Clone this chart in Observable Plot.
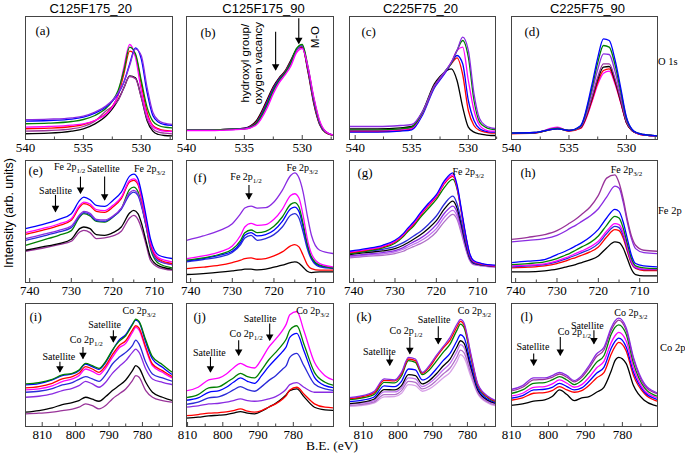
<!DOCTYPE html>
<html><head><meta charset="utf-8">
<script src="https://cdn.jsdelivr.net/npm/d3@7"></script>
<script src="https://cdn.jsdelivr.net/npm/@observablehq/plot@0.6"></script>
<style>
html,body{margin:0;padding:0;background:#fff;}
#chart{position:relative;width:685px;height:453px;overflow:hidden;background:#fff;}
#chart svg{position:absolute;}
</style></head><body><div id="chart"></div>
<script>
// ---------- binding-energy grids (eV) ----------
const oX  = [540.6, 538, 536, 535, 534, 533, 532.5, 532, 531.5, 531, 530.5, 530, 529.5, 529, 528.5, 528, 527.3];
const feX = [741, 737, 733, 730, 728, 727, 725.5, 724, 722, 720, 718, 716, 715, 714, 713, 712, 711, 709, 705.7];
const coX = [815, 811, 807, 804, 801, 799, 797, 795, 793, 791, 789, 787, 785, 783, 782, 781, 779, 777, 774, 771, 768];

// ---------- tick labels ----------
const oTicks = [540, 535, 530], oMinor = [537.5, 532.5, 527.5];
const feTicks = [740, 730, 720, 710], feMinor = [735, 725, 715];
const coTicks = [810, 800, 790, 780], coMinor = [805, 795, 785, 775];

const colTitles = ["C125F175_20", "C125F175_90", "C225F75_20", "C225F75_90"];
const rowTitles = ["O 1s", "Fe 2p", "Co 2p"];

// ---------- (a) C125F175_20, O 1s ----------
const a_violet  = [54,56,60,65,77,97,112,134,167,217,267,247,152,77,52,44,40];
const a_blue    = [50,52,56,62,74,94,110,132,167,222,270,237,137,67,47,40,37];
const a_green   = [42,44,49,55,67,90,110,142,202,272,252,172,92,50,37,32,30];
const a_magenta = [32,34,38,42,52,72,92,130,212,280,242,142,67,34,24,20,19];
const a_red     = [27,29,34,40,52,74,94,127,192,260,247,162,77,37,27,22,20];
const a_purple  = [20,22,27,34,50,82,94,112,150,184,177,122,57,27,17,14,12];
const a_black   = [12,14,20,27,42,67,87,114,150,186,180,122,52,20,10,7,6];
// ---------- (b) C125F175_90, O 1s ----------
const b_black   = [24,24,26,29,50,117,154,180,200,232,264,272,197,102,40,16,7];
const b_red     = [24,24,26,28,46,112,150,177,198,228,262,274,200,106,42,17,7];
const b_blue    = [24,24,26,28,44,108,147,175,196,226,264,276,205,110,44,18,8];
const b_green   = [24,24,26,27,42,102,142,172,194,224,268,280,212,118,48,19,8];
const b_magenta = [22,22,24,26,38,92,132,165,188,214,255,268,212,122,52,20,8];
const b_violet  = [23,23,25,27,40,98,138,170,192,220,262,276,208,115,46,19,8];
// ---------- (c) C225F75_20, O 1s ----------
const c_black   = [27,27,30,34,82,162,184,200,207,172,92,32,17,12,9,7,7];
const c_red     = [19,19,22,27,77,157,180,200,222,240,190,82,37,22,17,14,14];
const c_blue    = [17,17,20,24,72,150,174,197,224,247,222,112,52,27,20,17,17];
const c_magenta = [22,22,25,29,77,154,178,200,227,262,272,172,82,37,24,20,20];
const c_green   = [24,24,27,32,79,156,180,202,224,262,292,242,112,47,32,26,24];
const c_violet  = [34,34,37,40,82,156,180,202,227,262,302,262,132,57,37,30,27];
// ---------- (d) C225F75_90, O 1s ----------
const d_blue    = [14,16,27,22,36,160,240,297,292,235,150,62,25,14,10,8,6];
const d_green   = [14,16,28,22,35,150,225,277,272,220,140,58,24,14,10,8,6];
const d_violet  = [14,16,29,22,34,138,205,252,250,200,128,54,23,13,9,7,6];
const d_purple  = [13,15,28,21,32,122,182,222,222,178,115,48,22,13,9,7,6];
const d_black   = [14,15,27,22,31,118,175,212,214,172,110,46,21,13,9,7,6];
const d_red     = [12,14,29,20,29,112,167,202,207,167,107,45,21,12,8,7,6];
const d_magenta = [13,15,32,21,28,108,160,194,200,162,105,45,21,12,8,7,6];
// ---------- (e) C125F175_20, Fe 2p ----------
const e_blue    = [162,174,190,207,247,257,249,232,229,247,272,320,326,312,262,197,132,82,72];
const e_magenta = [150,162,176,192,232,242,236,219,216,232,257,307,312,300,250,187,122,74,62];
const e_red     = [145,157,171,187,227,237,231,214,211,227,252,302,307,295,245,182,117,70,57];
const e_violet  = [132,144,157,170,204,214,208,190,188,200,224,270,277,267,227,172,112,67,54];
const e_blue2   = [127,139,152,165,200,210,204,186,184,197,220,264,272,262,222,167,107,64,54];
const e_green   = [112,127,142,156,197,207,200,184,182,197,222,280,287,274,227,167,102,57,44];
const e_black   = [97,107,117,130,162,167,162,144,142,150,167,209,217,207,172,122,77,50,40];
const e_purple  = [94,103,114,124,152,157,150,132,134,140,154,194,202,190,157,112,67,45,37];
// ---------- (f) C125F175_90, Fe 2p ----------
const f_violet  = [127,140,157,177,207,224,230,224,225,242,277,322,330,315,272,202,142,97,87];
const f_magenta = [72,80,92,110,142,167,178,172,174,190,220,262,267,254,202,132,87,57,47];
const f_green   = [67,74,85,100,127,150,158,150,154,169,197,235,240,227,177,117,77,52,44];
const f_blue    = [65,72,82,94,120,142,150,140,144,157,184,222,227,214,167,112,74,50,44];
const f_blue2   = [62,69,77,90,114,134,142,127,132,144,167,202,207,194,152,102,70,47,42];
const f_red     = [42,46,52,60,67,72,74,70,72,80,92,110,114,107,82,54,42,37,37];
const f_black   = [24,27,31,35,38,40,40,38,40,46,52,60,62,58,46,34,30,32,32];
// ---------- (g) C225F75_20, Fe 2p ----------
const g_blue    = [94,102,112,127,147,162,182,207,237,264,307,330,294,224,150,90,66,57,52];
const g_magenta = [92,99,109,124,144,159,178,203,233,260,302,324,290,220,147,88,64,56,50];
const g_red     = [90,97,107,122,142,156,175,200,230,257,298,319,286,217,144,86,63,55,49];
const g_green   = [87,94,104,118,138,152,170,194,222,250,287,310,282,216,144,86,63,55,50];
const g_blue2   = [87,94,100,109,120,127,140,152,174,200,237,260,237,187,127,79,60,54,50];
const g_black   = [84,90,95,102,112,119,130,142,162,186,222,245,224,177,120,76,58,53,49];
const g_violet  = [80,85,90,96,105,112,122,132,150,174,209,230,212,167,114,72,57,52,48];
const g_lilac   = [77,82,86,92,100,106,115,124,140,162,197,217,200,157,109,70,55,51,47];
const g_orchid  = [74,79,82,87,94,100,108,116,130,152,184,205,190,150,105,68,54,50,46];
// ---------- (h) C225F75_90, Fe 2p ----------
const h_purple  = [130,136,144,156,170,178,190,205,227,262,314,324,300,252,190,140,112,97,94];
const h_violet  = [122,127,132,142,154,162,172,184,200,222,257,290,284,242,182,132,102,90,87];
const h_blue    = [60,64,69,84,94,100,110,120,137,160,194,220,214,182,132,82,57,50,47];
const h_green   = [54,57,62,72,82,87,97,107,120,140,172,199,194,164,117,72,50,44,42];
const h_magenta = [50,52,56,65,74,79,87,95,107,124,154,177,174,150,107,64,46,40,40];
const h_blue2   = [47,50,54,62,70,75,82,90,100,117,147,169,165,142,100,60,44,39,39];
const h_red     = [44,46,50,57,64,69,75,82,92,107,137,159,156,134,94,57,42,36,36];
const h_black   = [32,32,35,40,46,49,54,60,68,80,104,122,120,104,72,40,24,20,20];
// ---------- (i) C125F175_20, Co 2p ----------
const i_green   = [128,132,142,155,160,170,190,183,175,196,230,256,273,306,323,316,260,210,186,163,155];
const i_blue    = [125,129,140,153,158,168,188,180,172,193,228,260,276,308,320,313,253,203,178,156,148];
const i_red     = [116,120,130,143,150,160,180,173,163,183,216,243,258,290,303,296,238,188,168,150,142];
const i_magenta = [110,113,122,135,143,153,173,166,156,176,208,236,250,283,298,290,233,183,163,146,140];
const i_blue2   = [103,106,114,125,132,142,150,143,136,156,188,208,223,243,260,248,193,158,146,136,130];
const i_violet  = [88,91,98,108,115,123,136,128,118,133,160,180,198,223,233,223,173,143,133,126,120];
const i_black   = [43,48,56,66,72,78,88,82,76,90,108,123,140,168,183,176,133,103,88,78,74];
const i_purple  = [38,40,43,48,52,58,68,63,53,63,83,98,113,138,153,148,108,88,78,73,70];
// ---------- (j) C125F175_90, Co 2p ----------
const j_magenta = [103,106,118,140,146,158,176,190,180,176,203,238,263,290,308,336,346,288,193,153,138];
const j_green   = [83,86,96,116,120,132,146,160,150,146,170,200,223,248,263,290,303,248,163,133,123];
const j_blue    = [75,78,86,103,108,118,133,146,136,130,153,180,203,226,240,268,280,228,148,123,116];
const j_blue2   = [63,66,73,86,90,98,110,120,111,106,120,138,153,173,183,208,220,183,128,113,108];
const j_violet  = [56,58,62,68,70,73,78,83,78,76,78,83,90,103,113,126,132,118,103,103,103];
const j_red     = [30,32,36,40,42,44,48,53,46,43,48,58,68,83,93,110,118,98,68,58,56];
const j_black   = [23,25,28,32,34,36,40,45,40,38,46,58,70,86,96,108,113,90,58,50,48];
// ---------- (k) C225F75_20, Co 2p ----------
const k_violet  = [86,91,105,143,140,163,208,203,163,183,213,240,268,308,322,312,218,128,90,75,68];
const k_red     = [83,88,101,139,137,158,203,198,160,178,208,236,260,300,316,306,213,125,88,73,66];
const k_green   = [80,85,96,133,131,152,198,193,156,170,196,223,248,290,308,298,208,122,86,72,64];
const k_blue    = [74,78,88,122,120,136,173,170,140,150,173,198,220,258,276,268,188,115,81,70,62];
const k_black   = [68,72,82,111,110,123,156,153,128,138,158,182,203,240,258,251,178,110,78,68,60];
const k_lilac   = [66,70,78,104,104,116,146,143,120,130,148,170,190,226,246,238,170,106,76,66,58];
const k_orchid  = [63,66,73,96,96,108,136,133,113,121,138,158,176,210,230,222,160,102,73,63,56];
const k_pink    = [60,63,70,89,90,100,126,123,106,113,128,146,163,196,216,208,150,98,70,60,53];
// ---------- (l) C225F75_90, Co 2p ----------
const l_violet  = [108,110,123,146,146,153,163,153,138,153,183,218,238,298,318,326,298,208,128,103,96];
const l_purple  = [103,105,118,140,142,148,158,148,134,148,176,210,230,290,310,320,290,203,123,100,93];
const l_green   = [96,98,110,130,132,140,150,140,126,138,163,193,213,278,298,306,278,190,116,93,86];
const l_magenta = [88,90,100,118,120,128,140,130,118,126,148,176,196,253,273,283,258,176,108,88,80];
const l_blue    = [82,84,93,110,112,118,130,120,110,116,136,160,178,236,256,266,240,163,103,83,76];
const l_red     = [76,78,86,100,102,108,120,110,103,108,124,146,162,218,240,253,228,153,98,78,72];
const l_black   = [61,63,68,76,80,90,110,96,78,86,90,103,118,168,198,208,190,123,78,63,58];

// ---------- annotations [eV, intensity, text] and arrows [eV, from, to] ----------
const b_notes = [[534.9, 224, "hydroxyl group/"], [533.8, 224, "oxygen vacancy"], [528.85, 302, "M-O"]];
const b_arrows = [[532.3, 317, 202], [530.3, 357, 282]];
const e_notes = [[733.8, 276, "Satellite"], [730.4, 347, "Fe 2p~1/2"], [722.3, 343, "Satellite"], [711.2, 342, "Fe 2p~3/2"]];
const e_arrows = [[733.8, 262, 212], [727.8, 317, 267], [722.0, 317, 247]];
const f_notes = [[726.7, 319, "Fe 2p~1/2"], [713.2, 346, "Fe 2p~3/2"]];
const f_arrows = [[726.0, 292, 250]];
const g_notes = [[712.3, 332, "Fe 2p~3/2"]];
const h_notes = [[713.2, 340, "Fe 2p~3/2"]];
const i_notes = [[805, 211, "Satellite"], [796.8, 261, "Co 2p~1/2"], [791.3, 305, "Satellite"], [781, 348, "Co 2p~3/2"]];
const i_arrows = [[804.7, 193, 163], [797.8, 238, 203], [788.7, 288, 253]];
const j_notes = [[803.8, 223, "Satellite"], [793.4, 278, "Co 2p~1/2"], [789.4, 325, "Satellite"], [774.5, 348, "Co 2p~3/2"]];
const j_arrows = [[803.5, 208, 163], [795.5, 258, 213], [786.7, 308, 258]];
const k_notes = [[805.4, 226, "Satellite"], [797.7, 288, "Co 2p~1/2"], [789.6, 322, "Satellite"], [778, 348, "Co 2p~3/2"]];
const k_arrows = [[802.4, 213, 183], [796.6, 268, 218], [788.4, 300, 248]];
const l_notes = [[804.2, 240, "Satellite"], [793, 286, "Co 2p~1/2"], [789.5, 304, "Satellite"], [777.7, 343, "Co 2p~3/2"]];
const l_arrows = [[804, 218, 183], [796.8, 268, 213], [787.7, 288, 248]];

// ---------- styling ----------
const C = {black:"#000000", red:"#ff0000", blue:"#0000ff", blue2:"#2a2ad8", green:"#008000",
  magenta:"#ff00ff", violet:"#8a2be2", purple:"#993399", lilac:"#c070ee", orchid:"#b070c8", pink:"#d8a0e8"};
const colL = [25, 186, 349, 511], colW = [147, 147, 146, 146];
const rowT = [16, 160, 303], rowH = [123, 122, 123];
const rowY = [[-5, 364], [0, 367], [0, 370]];
const serif = "Liberation Serif";
const sans = "Liberation Sans";

const panels = [
  {id:"a", row:0, col:0, dom:[540,527.3], xs:oX, ticks:oTicks, minor:oMinor, lab:[10,9],
   s:[[a_black,"black"],[a_purple,"purple"],[a_red,"red"],[a_magenta,"magenta"],[a_green,"green"],[a_blue,"blue"],[a_violet,"violet"]]},
  {id:"b", row:0, col:1, dom:[540,527.3], xs:oX, ticks:oTicks, minor:oMinor, lab:[14,11], rot:b_notes, arrows:b_arrows,
   s:[[b_black,"black"],[b_red,"red"],[b_blue,"blue"],[b_violet,"violet"],[b_green,"green"],[b_magenta,"magenta"]]},
  {id:"c", row:0, col:2, dom:[540.5,527.6], xs:oX, ticks:oTicks, minor:oMinor, lab:[12,10],
   s:[[c_black,"black"],[c_red,"red"],[c_blue,"blue"],[c_magenta,"magenta"],[c_green,"green"],[c_violet,"violet"]]},
  {id:"d", row:0, col:3, dom:[540,527.3], xs:oX, ticks:oTicks, minor:oMinor, lab:[13,10],
   s:[[d_magenta,"magenta"],[d_red,"red"],[d_black,"black"],[d_purple,"purple"],[d_violet,"violet"],[d_green,"green"],[d_blue,"blue"]]},
  {id:"e", row:1, col:0, dom:[741,705.7], xs:feX, ticks:feTicks, minor:feMinor, lab:[3,5], notes:e_notes, arrows:e_arrows,
   s:[[e_purple,"purple"],[e_black,"black"],[e_green,"green"],[e_blue2,"blue2"],[e_violet,"violet"],[e_red,"red"],[e_magenta,"magenta"],[e_blue,"blue"]]},
  {id:"f", row:1, col:1, dom:[741,705.7], xs:feX, ticks:feTicks, minor:feMinor, lab:[7,12], notes:f_notes, arrows:f_arrows,
   s:[[f_black,"black"],[f_red,"red"],[f_blue2,"blue2"],[f_blue,"blue"],[f_green,"green"],[f_magenta,"magenta"],[f_violet,"violet"]]},
  {id:"g", row:1, col:2, dom:[741,705.7], xs:feX, ticks:feTicks, minor:feMinor, lab:[8,7], notes:g_notes,
   s:[[g_orchid,"orchid"],[g_lilac,"lilac"],[g_violet,"violet"],[g_black,"black"],[g_blue2,"blue2"],[g_green,"green"],[g_red,"red"],[g_magenta,"magenta"],[g_blue,"blue"]]},
  {id:"h", row:1, col:3, dom:[741,705.7], xs:feX, ticks:feTicks, minor:feMinor, lab:[9,7], notes:h_notes,
   s:[[h_black,"black"],[h_red,"red"],[h_blue2,"blue2"],[h_magenta,"magenta"],[h_green,"green"],[h_blue,"blue"],[h_violet,"violet"],[h_purple,"purple"]]},
  {id:"i", row:2, col:0, dom:[815,771], xs:coX, ticks:coTicks, minor:coMinor, lab:[4,8], notes:i_notes, arrows:i_arrows,
   s:[[i_purple,"purple"],[i_black,"black"],[i_violet,"violet"],[i_blue2,"blue2"],[i_magenta,"magenta"],[i_red,"red"],[i_blue,"blue"],[i_green,"green"]]},
  {id:"j", row:2, col:1, dom:[810.3,768.6], xs:coX, ticks:coTicks, minor:coMinor, lab:[7,8], notes:j_notes, arrows:j_arrows,
   s:[[j_black,"black"],[j_red,"red"],[j_violet,"violet"],[j_blue2,"blue2"],[j_blue,"blue"],[j_green,"green"],[j_magenta,"magenta"]]},
  {id:"k", row:2, col:2, dom:[814,771.9], xs:coX, ticks:coTicks, minor:coMinor, lab:[7,8], notes:k_notes, arrows:k_arrows,
   s:[[k_pink,"pink"],[k_orchid,"orchid"],[k_lilac,"lilac"],[k_black,"black"],[k_blue,"blue"],[k_green,"green"],[k_red,"red"],[k_violet,"violet"]]},
  {id:"l", row:2, col:3, dom:[810,770.5], xs:coX, ticks:coTicks, minor:coMinor, lab:[9,8], notes:l_notes, arrows:l_arrows,
   s:[[l_black,"black"],[l_red,"red"],[l_blue,"blue"],[l_magenta,"magenta"],[l_green,"green"],[l_purple,"purple"],[l_violet,"violet"]]}
];

const chart = document.getElementById("chart");

// background text layer: column titles, row labels, axis titles
const bg = d3.create("svg").attr("width", 685).attr("height", 453).style("left", "0px").style("top", "0px");
const titleX = [90.7, 263.5, 420.5, 587.5];
colTitles.forEach((t, i) => bg.append("text").attr("x", titleX[i]).attr("y", 12.5).attr("text-anchor", "middle")
  .attr("font-family", sans).attr("font-size", 13).text(t));
const rowLabelPos = [[658, 65], [658, 213.5], [660, 350.5]];
rowTitles.forEach((t, i) => bg.append("text").attr("x", rowLabelPos[i][0]).attr("y", rowLabelPos[i][1])
  .attr("font-family", serif).attr("font-size", 10.5).text(t));
bg.append("text").attr("transform", "translate(8.5,213) rotate(-90)").attr("text-anchor", "middle")
  .attr("dominant-baseline", "central").attr("font-family", sans).attr("font-size", 12.5).text("Intensity (arb. units)");
bg.append("text").attr("x", 332).attr("y", 449.5).attr("text-anchor", "middle")
  .attr("font-family", serif).attr("font-size", 13.5).text("B.E. (eV)");
chart.appendChild(bg.node());

function postProcess(svg) {
  svg.querySelectorAll("text").forEach(el => {
    const t = el.textContent;
    if (t.includes("~")) {
      const [main, sub] = t.split("~");
      el.textContent = main;
      const ts = document.createElementNS("http://www.w3.org/2000/svg", "tspan");
      ts.setAttribute("dy", "3");
      ts.setAttribute("font-size", "7");
      ts.textContent = sub;
      el.appendChild(ts);
    }
    // every panel text is serif except the rotated labels of panel (b)
    const g = el.closest("[font-family]");
    const fam = g ? g.getAttribute("font-family") : "";
    el.style.fontFamily = (fam === sans) ? sans : serif;
    el.style.fill = "black";
  });
}

panels.forEach(p => {
  const W = colW[p.col], H = rowH[p.row], yd = rowY[p.row];
  const ml = 16, mr = 16, mt = 2, mb = 24;
  const k = (yd[1] - yd[0]) / H;
  const marks = [];
  p.s.forEach(([ys, col]) => {
    marks.push(Plot.line(p.xs.map((x, i) => ({x, y: ys[i]})),
      {x: "x", y: "y", stroke: C[col], strokeWidth: 1.3, curve: "monotone-x", clip: true}));
  });
  marks.push(Plot.ruleX(p.ticks, {x: d => d, y1: yd[0], y2: yd[0] + 4 * k, stroke: "#444"}));
  marks.push(Plot.ruleX(p.minor, {x: d => d, y1: yd[0], y2: yd[0] + 2.5 * k, stroke: "#444"}));
  marks.push(Plot.frame({stroke: "#444", strokeWidth: 1}));
  marks.push(Plot.axisX(p.ticks, {tickSize: 0, tickPadding: 3, fontSize: 13, fontFamily: serif,
    label: null, tickFormat: d => String(d), fill: "black"}));
  marks.push(Plot.text([`(${p.id})`], {text: d => d, frameAnchor: "top-left", dx: p.lab[0], dy: p.lab[1],
    textAnchor: "start", lineAnchor: "top", fontSize: 13, fontFamily: serif, fill: "black"}));
  if (p.notes) marks.push(Plot.text(p.notes, {x: d => d[0], y: d => d[1], text: d => d[2],
    fontSize: 10, fontFamily: serif, textAnchor: "middle", lineAnchor: "middle", fill: "black"}));
  if (p.rot) marks.push(Plot.text(p.rot, {x: d => d[0], y: d => d[1], text: d => d[2], rotate: -90,
    fontSize: 11.5, fontFamily: sans, textAnchor: "middle", lineAnchor: "middle", fill: "black"}));
  if (p.arrows) {
    marks.push(Plot.ruleX(p.arrows, {x: d => d[0], y1: d => d[1], y2: d => d[2], stroke: "black", strokeWidth: 1.1}));
    marks.push(Plot.dot(p.arrows, {x: d => d[0], y: d => d[2], symbol: "triangle", r: 2.8, fill: "black", rotate: 180, dy: -4}));
  }
  const svg = Plot.plot({
    width: W + ml + mr, height: H + mt + mb,
    marginLeft: ml, marginRight: mr, marginTop: mt, marginBottom: mb,
    x: {domain: p.dom, label: null},
    y: {domain: yd, axis: null},
    style: {background: "transparent", overflow: "visible", fontFamily: serif, fontSize: "13px", color: "black"},
    marks
  });
  postProcess(svg);
  svg.style.position = "absolute";
  svg.style.left = (colL[p.col] - ml) + "px";
  svg.style.top = (rowT[p.row] - mt) + "px";
  chart.appendChild(svg);
});
</script>
</body></html>
